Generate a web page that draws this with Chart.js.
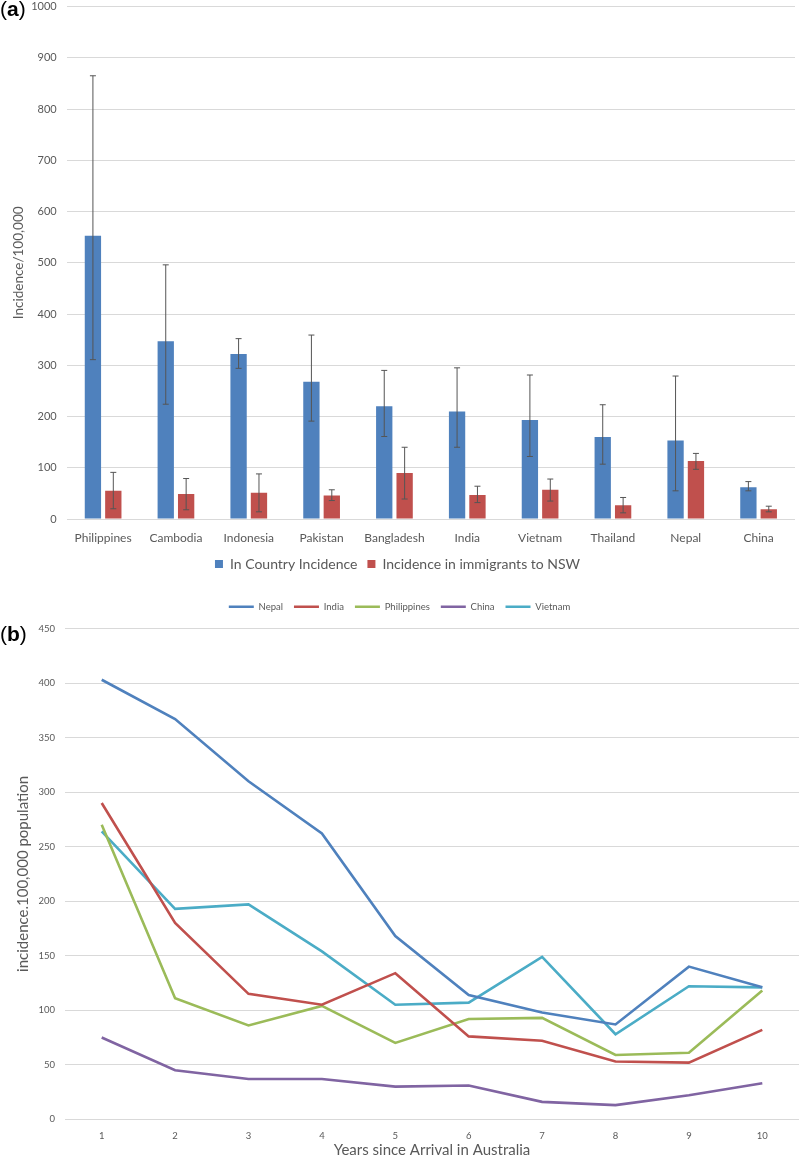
<!DOCTYPE html>
<html>
<head>
<meta charset="utf-8">
<script src="https://cdn.jsdelivr.net/npm/chart.js@4"></script>
<style>
  body { margin: 0; background: #fff; }
  #wrap { position: relative; width: 799px; height: 1159px; overflow: hidden; }
  .panel { position: absolute; left: 0; font-family: "Liberation Sans", Arial, sans-serif; font-size: 21px; color: #000; line-height: 1; }
  #boxA { position: absolute; left: 0; top: -10px; width: 799px; height: 591px; }
  #boxB { position: absolute; left: 0; top: 585px; width: 799px; height: 574px; }
</style>
</head>
<body>
<div id="wrap">
  <div id="boxA"><canvas id="chartA"></canvas></div>
  <div id="boxB"><canvas id="chartB"></canvas></div>
  <div class="panel" style="top:-2px">(<b>a</b>)</div>
  <div class="panel" style="top:623px">(<b>b</b>)</div>
</div>
<script>
// datos panel (a)
const countries = ["Philippines", "Cambodia", "Indonesia", "Pakistan", "Bangladesh", "India", "Vietnam", "Thailand", "Nepal", "China"];
const inCountry = [553, 347, 322, 268, 220, 210, 193, 160, 153, 62];
const inCountryHi = [865, 496, 352, 359, 290, 295, 281, 223, 279, 73];
const inCountryLo = [311, 224, 294, 191, 161, 140, 122, 107, 55, 55];
const immigrants = [55, 49, 51, 46, 90, 47, 57, 27, 113, 19];
const immigrantsHi = [91, 79, 88, 57, 140, 64, 78, 42, 128, 25];
const immigrantsLo = [20, 18, 14, 36, 39, 32, 35, 12, 97, 14];

// datos panel (b)
const years = ["1", "2", "3", "4", "5", "6", "7", "8", "9", "10"];
const nepal = [403, 367, 310, 262, 168, 114, 98, 87, 140, 121];
const india = [290, 180, 115, 105, 134, 76, 72, 53, 52, 82];
const philippines = [270, 111, 86, 104, 70, 92, 93, 59, 61, 118];
const china = [75, 45, 37, 37, 30, 31, 16, 13, 22, 33];
const vietnam = [264, 193, 197, 154, 105, 107, 149, 78, 122, 121];

const FONT = "Lato, 'Open Sans', sans-serif";
const GREY = "#595959";
const GRID = "#d9d9d9";

Chart.defaults.font.family = FONT;
Chart.defaults.color = GREY;
Chart.defaults.animation = false;
Chart.defaults.maintainAspectRatio = false;
Chart.defaults.responsive = true;

// barras de error
const errorBars = {
    id: "errorBars",
    afterDatasetsDraw(chart) {
        const ctx = chart.ctx;
        const y = chart.scales.y;
        chart.data.datasets.forEach((ds, di) => {
            if (!ds.errHi) return;
            const meta = chart.getDatasetMeta(di);
            meta.data.forEach((bar, i) => {
                const yHi = y.getPixelForValue(ds.errHi[i]);
                const yLo = y.getPixelForValue(ds.errLo[i]);
                ctx.save();
                ctx.strokeStyle = "#555";
                ctx.lineWidth = 1;
                ctx.beginPath();
                ctx.moveTo(bar.x, yHi);
                ctx.lineTo(bar.x, yLo);
                ctx.moveTo(bar.x - 3, yHi);
                ctx.lineTo(bar.x + 3, yHi);
                ctx.moveTo(bar.x - 3, yLo);
                ctx.lineTo(bar.x + 3, yLo);
                ctx.stroke();
                ctx.restore();
            });
        });
    },
};

// espacio extra bajo la leyenda
const legendGap = {
    id: "legendGap",
    beforeLayout(chart) {
        if (chart.legend && !chart.legend._gapPatched) {
            const fit = chart.legend.fit;
            chart.legend.fit = function () {
                fit.call(this);
                this.height += 7;
            };
            chart.legend._gapPatched = true;
        }
    },
};

new Chart(document.getElementById("chartA"), {
    type: "bar",
    data: {
        labels: countries,
        datasets: [
            {
                label: "In Country Incidence",
                data: inCountry,
                errHi: inCountryHi,
                errLo: inCountryLo,
                backgroundColor: "#4f81bd",
                categoryPercentage: 0.56,
                barPercentage: 0.8,
            },
            {
                label: "Incidence in immigrants to NSW",
                data: immigrants,
                errHi: immigrantsHi,
                errLo: immigrantsLo,
                backgroundColor: "#c0504d",
                categoryPercentage: 0.56,
                barPercentage: 0.8,
            },
        ],
    },
    options: {
        layout: { padding: { left: 0, right: 4, top: 0, bottom: 0 } },
        plugins: {
            legend: {
                position: "bottom",
                labels: { boxWidth: 8, boxHeight: 8, font: { size: 14 }, color: GREY, padding: 10 },
            },
            tooltip: { enabled: false },
        },
        scales: {
            x: {
                grid: { display: false },
                border: { display: false },
                ticks: { font: { size: 12 }, color: GREY, padding: 4, maxRotation: 0 },
                afterFit: (s) => { s.height = 28; },
            },
            y: {
                min: 0,
                max: 1000,
                ticks: { stepSize: 100, font: { size: 11 }, color: GREY, padding: 10, callback: (v) => String(v) },
                grid: { color: GRID, drawTicks: false },
                border: { display: false },
                title: { display: true, text: "Incidence/100,000", font: { size: 13.5 }, color: GREY, padding: { top: 11, bottom: 0 } },
                afterFit: (s) => { s.width = 66.7; },
            },
        },
    },
    plugins: [errorBars],
});

const lineSeries = [
    ["Nepal", nepal, "#4f81bd"],
    ["India", india, "#c0504d"],
    ["Philippines", philippines, "#9bbb59"],
    ["China", china, "#8064a2"],
    ["Vietnam", vietnam, "#4bacc6"],
];

new Chart(document.getElementById("chartB"), {
    type: "line",
    data: {
        labels: years,
        datasets: lineSeries.map(([label, data, color]) => ({
            label,
            data,
            borderColor: color,
            backgroundColor: color,
            borderWidth: 2.6,
            pointRadius: 0,
            tension: 0,
            fill: false,
        })),
    },
    options: {
        layout: { padding: { left: 0, right: 0, top: 6, bottom: 0 } },
        plugins: {
            legend: {
                position: "top",
                labels: {
                    usePointStyle: true,
                    pointStyle: "line",
                    pointStyleWidth: 25,
                    boxHeight: 9,
                    font: { size: 9.5 },
                    color: GREY,
                    padding: 11,
                },
            },
            tooltip: { enabled: false },
        },
        scales: {
            x: {
                offset: true,
                grid: { display: false },
                border: { display: false },
                ticks: { font: { size: 9.5 }, color: GREY, padding: 3, maxRotation: 0 },
                title: { display: true, text: "Years since Arrival in Australia", font: { size: 15 }, color: GREY, padding: { top: 0, bottom: 0 } },
                afterFit: (s) => { s.height = 39.7; },
            },
            y: {
                min: 0,
                max: 450,
                ticks: { stepSize: 50, font: { size: 9.5 }, color: GREY, padding: 10 },
                grid: { color: GRID, drawTicks: false },
                border: { display: false },
                title: { display: true, text: "incidence.100,000 population", font: { size: 15 }, color: GREY, padding: { top: 14, bottom: 0 } },
                afterFit: (s) => { s.width = 65; },
            },
        },
    },
    plugins: [legendGap],
});
</script>
</body>
</html>
